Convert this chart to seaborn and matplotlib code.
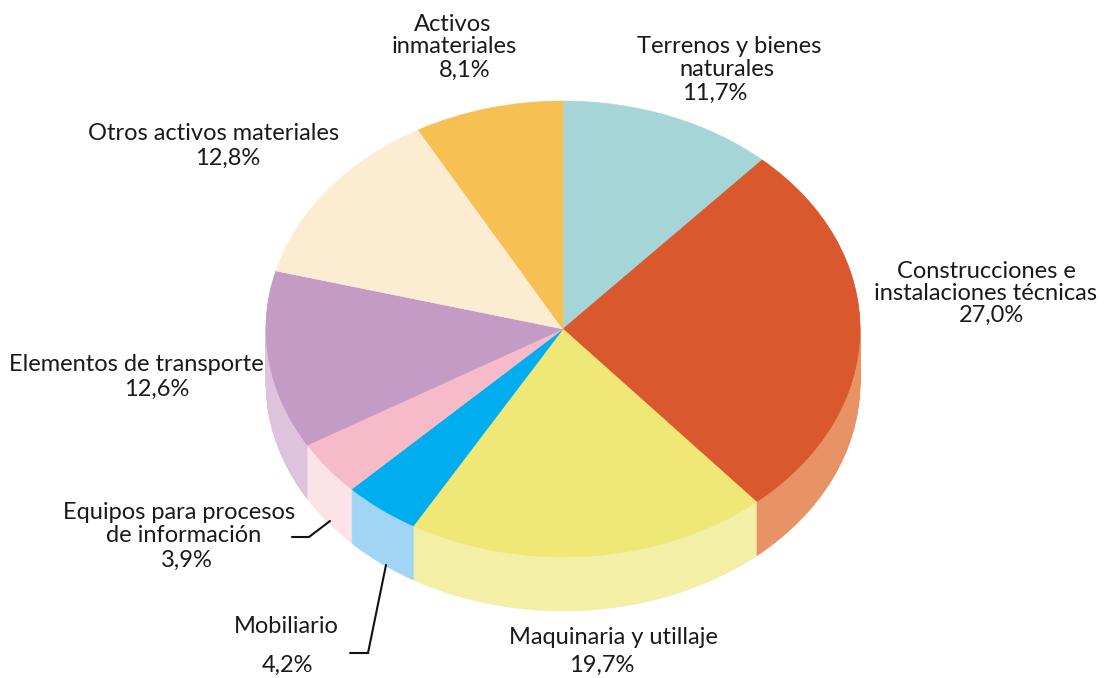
import matplotlib
matplotlib.use('Agg')
import matplotlib.pyplot as plt
import seaborn as sns
import numpy as np

# Data
categories = ['Terrenos y bienes naturales', 'Construcciones e instalaciones técnicas',
              'Maquinaria y utillaje', 'Mobiliario', 'Equipos para procesos de información',
              'Elementos de transporte', 'Otros activos materiales', 'Activos inmateriales']
shares = [11.7, 27.0, 19.7, 4.2, 3.9, 12.6, 12.8, 8.1]
top_colors = ['#a5d5d6', '#d9582d', '#efe876', '#00adee', '#f7bac8', '#c39bc4', '#fcecd2', '#f6c053']
side_colors = ['#d2eaea', '#e89366', '#f4efa6', '#a0d5f6', '#fce3e8', '#dfc3dd', '#fdf5e8', '#fadfa9']

# one entry per text line: text, centre x, baseline y (pixels)
label_text = ['Activos', 'inmateriales', '8,1%',
              'Terrenos y bienes', 'naturales', '11,7%',
              'Otros activos materiales', '12,8%',
              'Construcciones e', 'instalaciones técnicas', '27,0%',
              'Elementos de transporte', '12,6%',
              'Equipos para procesos', 'de información', '3,9%',
              'Mobiliario', '4,2%',
              'Maquinaria y utillaje', '19,7%']
label_x = [453, 454, 465, 729, 727, 715, 214, 228, 986, 986, 991, 136, 157, 179, 184, 187, 286, 288, 613, 602]
label_y = [31, 53, 77, 53, 76, 100, 140, 165, 278, 300, 322, 371, 396, 519, 542, 567, 633, 672, 644, 672]

W, H = 1106, 678
cx, cy, rx, ry = 563, 329, 297, 228
depth = 54

sns.set_theme(style='white')
plt.rcParams['font.family'] = ['Lato', 'DejaVu Sans']

fig = plt.figure(figsize=(W / 100, H / 100), dpi=100)


def draw_pie(ax, colors, off):
    wedges, _ = ax.pie(shares, startangle=90, counterclock=False,
                       colors=sns.color_palette(colors), center=(0, -off))
    # thin edge in the same colour, hides the seams between wedges
    for w in wedges:
        w.set_edgecolor(w.get_facecolor())
        w.set_linewidth(0.4)


# pie axes: the unit circle gets squashed into the ellipse
d = depth / ry
ax = fig.add_axes([(cx - rx) / W, 1 - (cy + ry + depth) / H, 2 * rx / W, (2 * ry + depth) / H])
for off in np.arange(depth, 0, -1) / ry:
    draw_pie(ax, side_colors, off)
draw_pie(ax, top_colors, 0)
ax.set_aspect('auto')
ax.set_xlim(-1, 1)
ax.set_ylim(-1 - d, 1)
ax.axis('off')

# overlay in pixel coordinates for labels and leader lines
over = fig.add_axes([0, 0, 1, 1], facecolor='none')
over.set_xlim(0, W)
over.set_ylim(H, 0)
over.axis('off')

for t, x, y in zip(label_text, label_x, label_y):
    over.text(x, y, t, ha='center', va='baseline', fontsize=17, color='#1a1a1a')

over.plot([330, 309, 292], [521, 537, 537], color='#111111', lw=1.5, solid_joinstyle='miter')
over.plot([386, 368, 350], [565, 653, 653], color='#111111', lw=1.5, solid_joinstyle='miter')

fig.savefig('out.png', dpi=100, facecolor='white')
